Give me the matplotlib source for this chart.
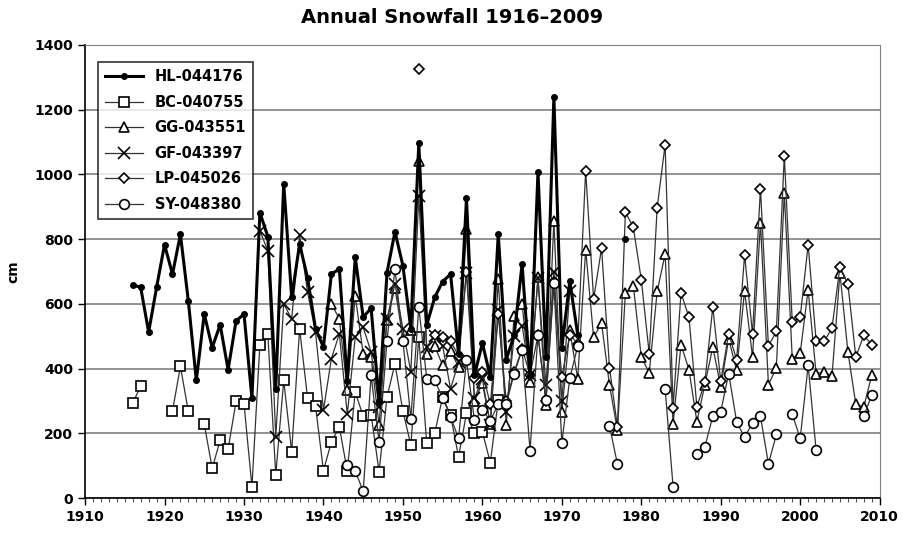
import numpy as np
import matplotlib.pyplot as plt
from matplotlib.ticker import MultipleLocator

# annual snowfall (cm) per station, None = missing year
hl_start = 1916
hl = [659, 651, 513, 651, 783, 692, 815, 608, 364, 569,
      465, 536, 397, 547, 569, 308, 882, 808, 338, 971,
      620, 785, 680, 523, 467, 692, 708, 361, 745, 559,
      587, 300, 697, 823, 718, 523, 1097, 535, 620, 669,
      692, 446, 926, 379, 479, 375, 815, 428, 503, 723,
      380, 1008, 436, 1239, 465, 670, 505, None, None, None,
      None, None, 802]

bc_start = 1916
bc = [294, 346, None, None, None, 269, 407, 268, None, 229,
      92, 179, 151, 299, 292, 36, 474, 506, 72, 364,
      144, 523, 310, 285, 85, 174, 220, 84, 328, 253,
      258, 82, 313, 415, 269, 164, 497, 169, 200, 313,
      256, 128, 262, 200, 205, 110, 302]

gg_start = 1941
gg = [600, 554, 333, 626, 446, 436, 226, 549, 650, 492,
      520, 1041, 446, 470, 410, 456, 405, 831, 300, 355,
      230, 677, 226, 564, 600, 359, 682, 287, 856, 267,
      518, 369, 767, 497, 541, 349, 210, 634, 656, 436,
      387, 639, 754, 229, 474, 397, 236, 351, 467, 344,
      492, 395, 641, 436, 851, 351, 402, 944, 431, 448,
      644, 385, 390, 377, 695, 453, 290, 282, 379]

gf_start = 1932
gf = [826, 764, 190, 600, 554, 812, 636, 513, 272, 431,
      508, 259, 497, 528, 451, 282, 554, 662, 523, 390,
      933, 467, 500, 470, 338, 420, 697, 308, 369, 226,
      580, 267, 500, 533, 380, 680, 349, 700, 300, 640]

lp_start = 1952
lp = [1325, None, 505, 497, 485, 440, 700, 370, 390, 290,
      569, 300, 390, 462, 380, 503, 300, 667, 374, 505,
      477, 1012, 615, 772, 403, 220, 884, 836, 675, 446,
      897, 1092, 279, 634, 559, 282, 359, 590, 361, 508,
      428, 751, 508, 956, 470, 515, 1058, 544, 559, 783,
      487, 484, 525, 715, 662, 436, 503, 474]

sy_start = 1943
sy = [103, 85, 21, 379, 174, 487, 708, 487, 246, 590,
      369, 364, 310, 251, 185, 426, 241, 272, 240, 290,
      290, 385, 458, 147, 505, 302, 665, 171, 370, 470,
      None, None, None, 223, 105, None, None, None, None, None,
      338, 36, None, None, 138, 159, 253, 267, 385, 236,
      188, 233, 253, 106, 197, None, 259, 185, 410, 149,
      None, None, None, None, None, 253, 318]

series = [
    ("HL-044176", hl_start, hl),
    ("BC-040755", bc_start, bc),
    ("GG-043551", gg_start, gg),
    ("GF-043397", gf_start, gf),
    ("LP-045026", lp_start, lp),
    ("SY-048380", sy_start, sy),
]

styles = {
    "HL-044176": dict(color="black", lw=2.2, marker="o", ms=4, mfc="black", mec="black", zorder=10),
    "BC-040755": dict(color="#333333", lw=0.9, marker="s", ms=7, mfc="white", mec="black", mew=1.2, zorder=4),
    "GG-043551": dict(color="#333333", lw=0.9, marker="^", ms=7.5, mfc="white", mec="black", mew=1.2, zorder=5),
    "GF-043397": dict(color="#333333", lw=0.9, marker="x", ms=8, mec="black", mew=1.2, zorder=6),
    "LP-045026": dict(color="#333333", lw=0.9, marker="D", ms=5.5, mfc="white", mec="black", mew=1.2, zorder=7),
    "SY-048380": dict(color="#333333", lw=0.9, marker="o", ms=7, mfc="white", mec="black", mew=1.2, zorder=8),
}

fig = plt.figure(figsize=(9.05, 5.34), dpi=100)
ax = fig.add_axes([0.094, 0.067, 0.878, 0.849])

for name, start, vals in series:
    years = np.arange(start, start + len(vals))
    y = np.array([np.nan if v is None else v for v in vals], dtype=float)
    ax.plot(years, y, label=name, **styles[name])

ax.set_xlim(1910, 2010)
ax.set_ylim(0, 1400)
ax.xaxis.set_major_locator(MultipleLocator(10))
ax.xaxis.set_minor_locator(MultipleLocator(1))
ax.yaxis.set_major_locator(MultipleLocator(200))
ax.yaxis.set_minor_locator(MultipleLocator(100))
ax.tick_params(axis="x", which="major", length=5, direction="out", width=1)
ax.tick_params(axis="x", which="minor", length=3, direction="out", width=0.8, color="#555555")
ax.tick_params(axis="y", which="major", length=5, direction="out", width=1)
ax.tick_params(axis="y", which="minor", length=0)
ax.grid(axis="y", which="major", color="#808080", lw=1.2)
ax.set_axisbelow(True)

for lab in ax.get_xticklabels() + ax.get_yticklabels():
    lab.set_fontweight("bold")
    lab.set_fontsize(10)

ax.spines["left"].set_color("black")
ax.spines["bottom"].set_color("black")
ax.spines["right"].set_color("#808080")
ax.spines["top"].set_color("#808080")
ax.spines["left"].set_linewidth(1.2)
ax.spines["bottom"].set_linewidth(1.2)

ax.set_ylabel("cm", fontweight="bold", fontsize=10, labelpad=10)
fig.suptitle("Annual Snowfall 1916\u20132009", fontweight="bold", fontsize=14, y=0.985)

leg = ax.legend(loc="upper left", bbox_to_anchor=(0.016, 0.962), frameon=True, fancybox=False,
                edgecolor="black", handlelength=2.6, borderpad=0.5, labelspacing=0.72,
                borderaxespad=0, prop=dict(weight="bold", size=10.5))
leg.get_frame().set_linewidth(1.2)
leg.set_zorder(20)

fig.savefig("out.png", dpi=100)
